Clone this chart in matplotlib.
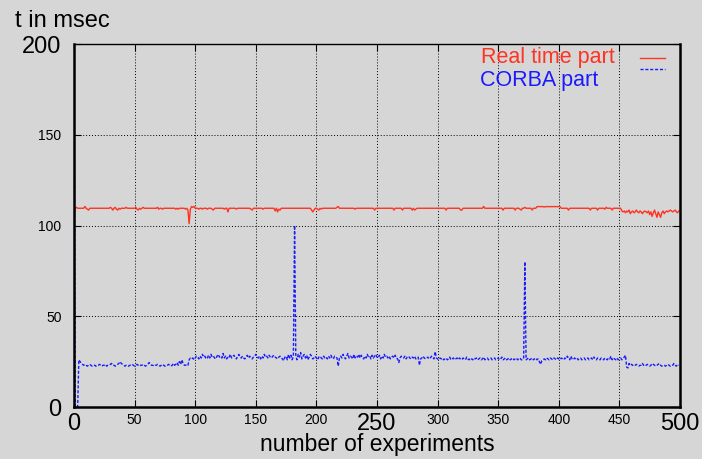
import matplotlib
matplotlib.use("Agg")
import matplotlib.pyplot as plt
import numpy as np
from matplotlib.lines import Line2D

plt.rcParams['font.family'] = ['Liberation Sans', 'DejaVu Sans']

# ---------------- data ----------------
corba_part = [
    200, 0, 0, 0, 26, 25, 24, 23.5, 23, 23.5, 23, 22.5, 23, 23.5, 23, 22.5, 23, 23, 22.5, 23,
    23, 23.5, 23, 22.5, 23, 23, 23.5, 22.5, 23, 23, 23.5, 24, 23, 23, 22.5, 23, 23.5, 24, 25, 24,
    23.5, 23, 22.5, 23, 23, 22.5, 23, 23, 23.5, 23, 22.5, 23, 23.5, 23, 22.5, 23, 23, 23.5, 23, 22.5,
    23, 23.5, 24.5, 23.5, 23, 23, 22.5, 23, 23, 23.5, 23, 22.5, 23, 23.5, 23, 22.5, 23, 23, 23.5, 23,
    22.5, 23, 24, 23, 23.5, 24.5, 23, 25, 23.5, 26, 24, 23, 23, 23.5, 23, 26, 27, 26.5, 27, 26,
    27, 28, 27.5, 26.5, 28, 27, 29, 27.5, 28, 26.5, 27, 28.5, 27, 29, 27.5, 28, 27, 26.5, 28, 29,
    27.5, 28, 27, 29.5, 27, 28, 26.5, 28, 27.5, 29, 27, 28, 28.5, 27, 26.5, 28, 29, 27.5, 27, 28,
    27, 26.5, 27.5, 28.5, 27, 28, 27, 26.5, 27.5, 28, 29, 27.5, 27, 28, 26.5, 28, 27, 29, 27.5, 28,
    27, 28.5, 27.5, 27, 28, 28.5, 27.5, 27, 26.5, 27.5, 28, 27, 26.5, 25.5, 27.5, 28, 26, 29, 27, 28.5,
    26, 28, 100, 28, 26, 29, 27.5, 30, 26.5, 28, 29, 27, 28.5, 26, 27.5, 29, 28, 26.5, 27, 28,
    27, 26, 27.5, 28, 27, 26.5, 28, 27, 27.5, 26.5, 28, 27, 28.5, 27, 26.5, 28, 27.5, 27, 22.5, 27,
    28, 27, 29, 27.5, 26.5, 28, 29.5, 27, 28, 27.5, 26.5, 29, 27, 28, 27.5, 29, 27, 28.5, 27, 26.5,
    28, 27, 29, 27.5, 28, 26.5, 28.5, 27, 28, 29, 27.5, 27, 28.5, 26.5, 28, 27, 29, 27.5, 28, 27,
    28, 26.5, 27.5, 28, 27, 28.5, 27, 26.5, 24.5, 27, 28, 27.5, 27, 28, 26.5, 27.5, 28, 27, 26.5, 27.5,
    27, 28, 26.5, 27, 27.5, 23, 26.5, 27, 28, 27, 26.5, 27, 27.5, 26.5, 27, 28, 27, 26.5, 30.5, 27,
    26.5, 26, 27, 26.5, 27, 26, 26.5, 27, 26, 26.5, 27.5, 26, 26.5, 27, 26, 26.5, 27, 26, 27, 26.5,
    26, 27, 26.5, 26, 27.5, 26.5, 26, 27, 26.5, 26, 27, 26.5, 27, 26, 26.5, 27, 26, 26.5, 27.5, 26,
    26.5, 27, 26, 26.5, 27, 26, 26.5, 27, 26, 26.5, 27, 26, 26.5, 27.5, 26, 26.5, 27, 26, 26.5, 27,
    26, 26.5, 27, 26, 26.5, 27, 26, 26.5, 27, 26, 26, 27, 80, 26, 26.5, 27, 26, 26.5, 27, 26,
    26.5, 27, 26, 26.5, 25, 23.5, 25.5, 26, 26.5, 26, 27, 26.5, 26, 27, 26.5, 26, 27, 26.5, 26, 27,
    26.5, 26, 27, 26.5, 26, 27, 26.5, 28, 27, 26, 28, 26.5, 26, 27, 26.5, 27, 26, 26.5, 27, 26,
    26.5, 27, 26, 26.5, 27, 26, 26.5, 27, 26, 27.5, 26.5, 26, 27, 26.5, 26, 27, 26.5, 26, 27, 26.5,
    26, 27, 26.5, 28, 26, 27, 26.5, 26, 27, 26, 26.5, 27, 26, 26.5, 27.5, 28.5, 22, 21.5, 24, 23,
    23.5, 23, 22.5, 23, 23.5, 23, 22.5, 23, 23, 24, 23, 22.5, 23, 23.5, 23, 22.5, 23, 24, 23.5, 23,
    22.5, 23, 23.5, 24, 23, 22.5, 23, 23, 22.5, 23, 23.5, 23, 22.5, 23, 23, 24, 23, 22.5, 23.5, 23,
]

real_time_part = [
    104, 109.5, 110, 109.5, 109.5, 109.5, 109.5, 109.5, 109.5, 110.5, 109.5, 109, 108.5, 109.5, 109.5, 109.5, 109.5, 109.5, 109.5, 109.5,
    109.5, 109.5, 109.5, 109.5, 109.5, 109.5, 109.5, 109.5, 109.5, 109.5, 110, 109.5, 108.5, 109.5, 110, 109, 108.5, 109.5, 109, 109.5,
    109.5, 109.5, 109.5, 110, 109.5, 109.5, 109.5, 109.5, 109.5, 109.5, 109.5, 110, 109, 108.5, 109.5, 109, 109.5, 110, 109.5, 109.5,
    109.5, 109.5, 109.5, 109.5, 109.5, 109.5, 109.5, 109.5, 109.5, 110, 109, 109.5, 109.5, 109, 109.5, 109.5, 109.5, 109.5, 109.5, 109.5,
    109.5, 109.5, 109.5, 109.5, 109, 109.5, 109, 109.5, 109.5, 109.5, 109.5, 109.5, 109, 109.5, 108.5, 101, 109, 110.5, 110, 110.5,
    109.5, 109.5, 109.5, 109, 109.5, 109.5, 109, 109.5, 109.5, 109.5, 109, 109.5, 109.5, 109.5, 109, 108.5, 109.5, 109.5, 109.5, 109.5,
    109.5, 109.5, 109.5, 109.5, 109, 109.5, 109.5, 107.5, 109.5, 109.5, 109.5, 109.5, 109.5, 109.5, 109, 109.5, 109.5, 109.5, 109.5, 109.5,
    109.5, 109.5, 109.5, 109.5, 109.5, 109.5, 109, 108.5, 109.5, 109.5, 109.5, 109.5, 109.5, 109.5, 109.5, 109.5, 109, 109.5, 109.5, 109.5,
    109.5, 109.5, 109.5, 109.5, 109.5, 109.5, 108, 109.5, 107.5, 109, 108.5, 109.5, 109.5, 109.5, 109.5, 109.5, 109.5, 109.5, 109.5, 109.5,
    109.5, 109.5, 109.5, 109.5, 109.5, 109.5, 109.5, 109.5, 109.5, 109.5, 109.5, 109.5, 109.5, 109.5, 109.5, 109.5, 108.5, 107.5, 108.5, 109.5,
    109.5, 109, 108.5, 109.5, 109, 109.5, 109.5, 109.5, 109.5, 109.5, 109.5, 109.5, 109.5, 109.5, 109.5, 109.5, 109.5, 110, 110.5, 109.5,
    109.5, 109.5, 109.5, 109.5, 109.5, 109.5, 109.5, 109.5, 109.5, 109.5, 109.5, 109.5, 109, 109.5, 109.5, 109.5, 109.5, 109.5, 109.5, 109.5,
    109.5, 109.5, 109.5, 109.5, 109.5, 109.5, 109.5, 109.5, 108.5, 109.5, 109.5, 109.5, 109.5, 109.5, 109.5, 109.5, 109.5, 109.5, 109.5, 109.5,
    109.5, 109.5, 109.5, 109.5, 108.5, 109.5, 109.5, 109.5, 109.5, 109.5, 109.5, 108.5, 109.5, 109.5, 109.5, 109.5, 109.5, 109.5, 109.5, 108.5,
    109.5, 108.5, 109, 109.5, 109.5, 109.5, 109.5, 109.5, 109.5, 109.5, 109.5, 109.5, 109.5, 109.5, 109.5, 109.5, 109.5, 109.5, 109.5, 109.5,
    109.5, 109.5, 109.5, 109.5, 109.5, 109.5, 109.5, 108.5, 109.5, 109.5, 109.5, 109.5, 109.5, 109.5, 109.5, 109.5, 109.5, 109.5, 109.5, 108.5,
    108.5, 109.5, 109.5, 109.5, 109.5, 109.5, 109.5, 109.5, 109.5, 109.5, 109.5, 109.5, 109.5, 109.5, 109.5, 109.5, 109.5, 109.5, 110.5, 109.5,
    109.5, 109.5, 109.5, 109.5, 109.5, 109.5, 109.5, 109.5, 109.5, 109.5, 109.5, 109.5, 109.5, 109.5, 108.5, 109.5, 109.5, 109.5, 109.5, 109.5,
    109.5, 109.5, 109.5, 109.5, 108.5, 109.5, 109.5, 109.5, 109, 108.5, 109.5, 109.5, 110, 109.5, 109.5, 109.5, 109.5, 109.5, 108.5, 109.5,
    109.5, 109.5, 110.4, 110.4, 110.4, 110.4, 110.4, 110.4, 110.2, 110.4, 110.4, 110.4, 110.4, 110.4, 110.4, 110.4, 110.4, 110.4, 110.4, 110.4,
    110.4, 110.4, 109.5, 109.5, 109.5, 109.5, 109.5, 109.5, 108.5, 109.5, 109.5, 109.5, 109.5, 109.5, 109.5, 109.5, 109.5, 109.5, 109.5, 109.5,
    109.5, 109.5, 109.5, 109.5, 109.5, 109.5, 108.5, 109.5, 109.5, 109.5, 109.5, 109.5, 108.5, 109.5, 109.5, 109.5, 109.5, 109.5, 109, 110,
    109.5, 109.5, 109.5, 109.5, 108.5, 109.5, 109.5, 109.5, 109.5, 109.5, 109.5, 109.5, 108, 107.5, 108, 107, 108, 107.5, 108.5, 106.5,
    107.5, 108, 107, 107.5, 108.5, 107.5, 107, 108, 107.5, 106.5, 107.5, 108, 107.5, 107, 108, 106, 107.5, 105, 107, 108.5,
    106.5, 104.5, 107.5, 106, 104.5, 107, 108, 106.5, 107.5, 108, 107.5, 108, 108.5, 108, 107.5, 108, 108.5, 107.5, 107, 108,
]

x_ticks = [0, 50, 100, 150, 200, 250, 300, 350, 400, 450, 500]
y_ticks = [0, 50, 100, 150, 200]
big_x = {0, 250, 500}
big_y = {0, 200}
series_labels = ['Real time part', 'CORBA part']

experiments = np.arange(len(real_time_part))

# ---------------- figure ----------------
bg = '#d6d6d6'
red = '#ff3322'
blue = '#1a1aff'
fig = plt.figure(figsize=(7.02, 4.59), dpi=100, facecolor=bg)
ax = fig.add_axes([74/702, 1 - 407/459, 606/702, 363/459], facecolor=bg)

ax.plot(experiments, real_time_part, color=red, lw=1.0)
ax.plot(np.arange(len(corba_part)), corba_part, color=blue, lw=1.0,
        linestyle=(0, (2.2, 1.3)))

ax.set_xlim(0, 500)
ax.set_ylim(0, 200)
ax.set_xticks(x_ticks)
ax.set_yticks(y_ticks)
ax.set_xticklabels([str(v) for v in x_ticks])
ax.set_yticklabels([str(v) for v in y_ticks])
for lab, v in zip(ax.get_xticklabels(), x_ticks):
    lab.set_fontsize(17 if v in big_x else 10)
for lab, v in zip(ax.get_yticklabels(), y_ticks):
    lab.set_fontsize(17 if v in big_y else 10)

ax.tick_params(direction='in', length=5, width=0.8, top=True, right=True)
ax.tick_params(axis='y', pad=9)
ax.tick_params(axis='x', pad=4)
ax.grid(True, color='black', linestyle=(0, (1, 2)), linewidth=0.7)

for side in ['left', 'bottom', 'right']:
    ax.spines[side].set_linewidth(1.8)
ax.spines['top'].set_linewidth(1.0)

ax.set_xlabel('number of experiments', fontsize=16.5)
ax.xaxis.set_label_coords(0.5, -(445 - 407) / 363)
ax.xaxis.label.set_va('center')
fig.text(15/702, 1 - 21/459, 't in msec', fontsize=17, ha='left', va='center')

# legend labels (left aligned, like the reference)
ax.text(0.672, 0.949, series_labels[0], color=red, fontsize=15.5,
        transform=ax.transAxes, ha='left', va='baseline')
ax.text(0.670, 0.884, series_labels[1], color=blue, fontsize=15.5,
        transform=ax.transAxes, ha='left', va='baseline')

# legend keys
handles = [Line2D([], [], color=red, lw=1.0),
           Line2D([], [], color=blue, lw=1.0, linestyle=(0, (2.2, 1.3)))]
ax.legend(handles, ['', ''], loc='upper left', bbox_to_anchor=(0.934, 0.974),
          frameon=False, fontsize=7, handlelength=2.57, handletextpad=0,
          labelspacing=0.15, borderpad=0, borderaxespad=0)

fig.savefig('out.png', dpi=100, facecolor=bg)
